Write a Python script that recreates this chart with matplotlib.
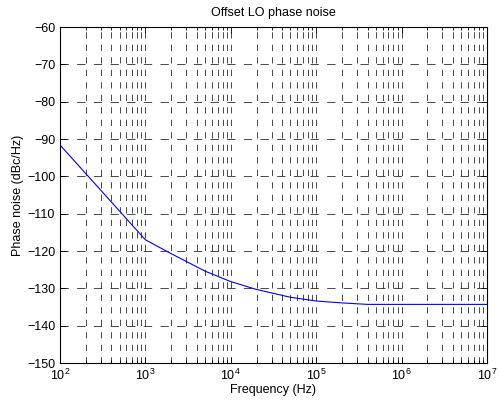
import matplotlib
matplotlib.use('Agg')
import matplotlib.pyplot as plt
from matplotlib.ticker import LogLocator

plt.rcParams['font.family'] = ['Liberation Sans', 'DejaVu Sans']
plt.rcParams['mathtext.fontset'] = 'custom'
plt.rcParams['mathtext.rm'] = 'Liberation Sans'
plt.rcParams['mathtext.it'] = 'Liberation Sans'
plt.rcParams['lines.scale_dashes'] = False

# Offset LO phase noise curve (frequency in Hz, noise in dBc/Hz)
freq = [1e2, 1e3, 2e3, 5e3, 1e4, 2e4, 5e4, 1e5, 2e5, 4e5, 1e6, 1e7]
noise = [-91.6, -117.0, -120.7, -125.4, -128.2, -130.3, -132.4, -133.4, -133.9, -134.3, -134.3, -134.3]

yticks = list(range(-150, -59, 10))

fig = plt.figure(figsize=(4.99, 4.05), dpi=100)
ax = fig.add_axes([60 / 499, 1 - 363 / 405, 427 / 499, 336 / 405])

ax.semilogx(freq, noise, color=(0, 0, 1), linewidth=0.8)

ax.set_xlim(1e2, 1e7)
ax.set_ylim(-150, -60)
ax.set_yticks(yticks)
ax.xaxis.set_major_locator(LogLocator(base=10, numticks=10))
ax.xaxis.set_minor_locator(LogLocator(base=10, subs=range(2, 10), numticks=20))

# matlab-style dotted grid, rendered as dashes
ax.yaxis.grid(True, which='major', color='black', linewidth=0.5, linestyle=(0, (6, 6)))
ax.xaxis.grid(True, which='both', color='black', linewidth=0.5, linestyle=(0, (4.5, 4.5)))
ax.set_axisbelow(True)

ax.tick_params(which='both', direction='in', top=True, right=True, labelsize=9, width=0.6)
ax.tick_params(which='major', length=4)
ax.tick_params(which='minor', length=2.5)
ax.tick_params(axis='y', which='minor', left=False, right=False)
for s in ax.spines.values():
    s.set_linewidth(0.8)

ax.set_title('Offset LO phase noise', fontsize=9, pad=8)
ax.set_xlabel('Frequency (Hz)', fontsize=9, labelpad=1)
ax.set_ylabel('Phase noise (dBc/Hz)', fontsize=9, labelpad=2)

fig.savefig('out.png', dpi=100)
